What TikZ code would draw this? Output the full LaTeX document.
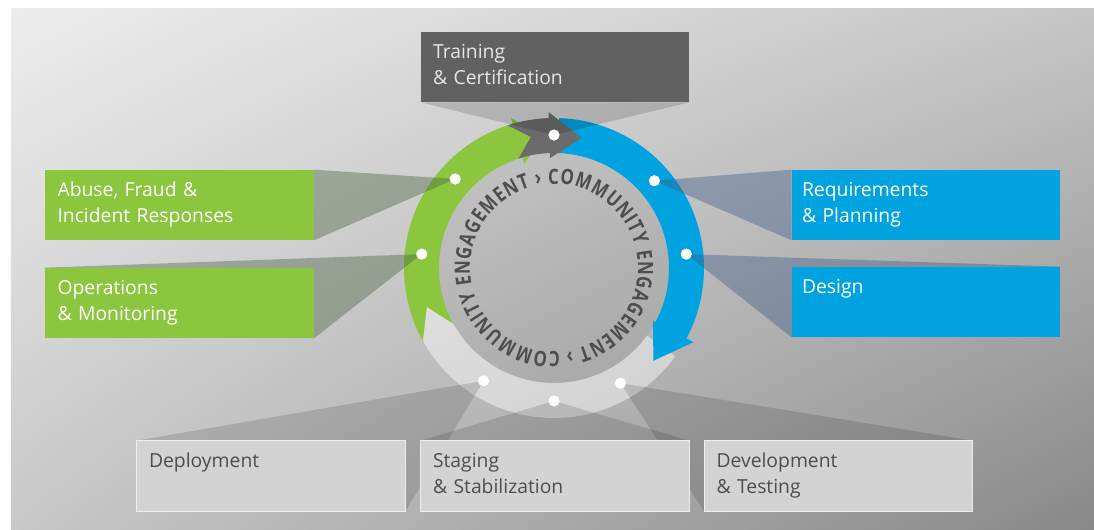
\documentclass[tikz,border=0pt]{standalone}
\usepackage{fontspec}
\setmainfont{Open Sans}
\newfontfamily\ringfont[FakeStretch=0.8]{Open Sans}
\usetikzlibrary{positioning,decorations.text,shadings}
\definecolor{sdlgreen}{HTML}{8CC63F}
\definecolor{sdlblue}{HTML}{00A3E0}
\definecolor{sdldark}{HTML}{616161}
\definecolor{sdllight}{HTML}{D3D3D3}
\definecolor{sdlarrow}{HTML}{6B6B6B}
\definecolor{sdltext}{HTML}{4D4D4D}
\definecolor{bgUL}{HTML}{EDEDED}
\definecolor{bgUR}{HTML}{C6C6C6}
\definecolor{bgLL}{HTML}{C8C8C8}
\definecolor{bgLR}{HTML}{888888}
\definecolor{wgreen}{HTML}{46613F}
\definecolor{wblue}{HTML}{3E5888}

\begin{document}
\begin{tikzpicture}[x=0.02cm, y=0.02cm,
    box/.style={rectangle, minimum width=5.36cm, minimum height=1.4cm, inner sep=0pt},
    lbl/.style={anchor=north west, inner sep=0pt, text width=5cm, align=left,
      font=\fontsize{11}{14.8}\selectfont, execute at begin node=\strut},
    dot/.style={circle, fill=white, fill opacity=.9, inner sep=0pt, minimum size=0.22cm},
    wedge/.style={fill=#1, fill opacity=.4}]
      \useasboundingbox (-554,-261) rectangle (540,268);
      % Background
      \shade[upper left=bgUL, upper right=bgUR, lower left=bgLL, lower right=bgLR]
        (-543,260) rectangle (540,-261);

      % Define nodes
      \node[box, fill=sdldark] (train) at (1,201) {};
      \node[box, fill=sdlgreen] (abuse) at (-374.5,63) {};
      \node[box, fill=sdlgreen] (ops) at (-374.5,-35) {};
      \node[box, fill=sdlblue] (req) at (372,63) {};
      \node[box, fill=sdlblue] (design) at (372,-34) {};
      \node[box, fill=sdllight, draw=white!60!sdllight] (deploy) at (-283,-208) {};
      \node[box, fill=sdllight, draw=white!60!sdllight] (stage) at (1,-208) {};
      \node[box, fill=sdllight, draw=white!60!sdllight] (devel) at (284.5,-208) {};

      % Inner disk and ring
      \fill[black, fill opacity=.06] (0,0) circle[radius=115];
      \fill[white, fill opacity=.45] (-36:150) arc[start angle=-36, end angle=-151, radius=150]
        -- (-163:133) -- (-151:115) arc[start angle=-151, end angle=-36, radius=115] -- cycle;
      \fill[sdlgreen] (209:150) arc[start angle=209, end angle=106, radius=150]
        -- (106:156) -- (95:133) -- (106:108)
        -- (106:115) arc[start angle=106, end angle=209, radius=115] -- (197:133) -- cycle;
      \fill[sdlblue] (88:150) arc[start angle=88, end angle=-28, radius=150]
        -- (-28:158) -- (-43:136) -- (-28:112)
        -- (-28:115) arc[start angle=-28, end angle=88, radius=115] -- cycle;
      \fill[sdlarrow] (108:150) arc[start angle=108, end angle=92, radius=150]
        -- (92:156) -- (78:133) -- (92:110)
        -- (92:115) arc[start angle=92, end angle=108, radius=115] -- (100:133) -- cycle;

      % Ring text
      \path[decorate, decoration={text along path, text align=fit to path,
        text={|\ringfont\fontsize{12}{14}\selectfont\bfseries\color{sdltext}|COMMUNITY ENGAGEMENT › COMMUNITY ENGAGEMENT ›}}]
        (94:84) arc[start angle=94, end angle=-262, radius=84];

      % Dots
      \node[dot] (dTrain) at (90:133) {};
      \node[dot] (dAbuse) at (138:133) {};
      \node[dot] (dOps) at (174:133) {};
      \node[dot] (dReq) at (41:133) {};
      \node[dot] (dDesign) at (6:133) {};
      \node[dot] (dDeploy) at (238:133) {};
      \node[dot] (dStage) at (270:133) {};
      \node[dot] (dDevel) at (300:133) {};

      % Draw wedges
      \fill[wedge=black, fill opacity=.15] (dTrain.center) -- (train.south west) -- (train.south east) -- cycle;
      \fill[wedge=wgreen] (dAbuse.center) -- (abuse.north east) -- (abuse.south east) -- cycle;
      \fill[wedge=wgreen] (dOps.center) -- (ops.north west) -- (ops.south east) -- cycle;
      \fill[wedge=wblue] (dReq.center) -- (req.north west) -- (req.south west) -- cycle;
      \fill[wedge=wblue] (dDesign.center) -- (design.north east) -- (design.south west) -- cycle;
      \fill[wedge=black, fill opacity=.13] (dDeploy.center) -- (deploy.north west) -- (deploy.south east) -- cycle;
      \fill[wedge=black, fill opacity=.13] (dStage.center) -- (stage.north west) -- (stage.north east) -- cycle;
      \fill[wedge=black, fill opacity=.13] (dDevel.center) -- (devel.north east) -- (devel.south west) -- cycle;

      % Redraw boxes over wedges
      \foreach \b/\c in {train/sdldark, abuse/sdlgreen, ops/sdlgreen, req/sdlblue, design/sdlblue}
        \fill[\c] (\b.south west) rectangle (\b.north east);
      \foreach \b in {deploy, stage, devel}
        \filldraw[fill=sdllight, draw=white!60!sdllight] (\b.south west) rectangle (\b.north east);
      \foreach \d in {dTrain, dAbuse, dOps, dReq, dDesign, dDeploy, dStage, dDevel}
        \fill[white, fill opacity=.9] (\d) circle[radius=5.5];

      % Labels
      \node[lbl, text=white!85!sdldark] (trainL) at ([shift={(12,-8)}]train.north west) {Training\\\& Certification};
      \node[lbl, text=white] (abuseL) at ([shift={(12,-8)}]abuse.north west) {Abuse, Fraud \&\\Incident Responses};
      \node[lbl, text=white] (opsL) at ([shift={(12,-8)}]ops.north west) {Operations\\\& Monitoring};
      \node[lbl, text=white] (reqL) at ([shift={(10,-8)}]req.north west) {Requirements\\\& Planning};
      \node[lbl, text=white] (designL) at ([shift={(10,-8)}]design.north west) {Design};
      \node[lbl, text=sdltext] (deployL) at ([shift={(12,-8)}]deploy.north west) {Deployment};
      \node[lbl, text=sdltext] (stageL) at ([shift={(12,-8)}]stage.north west) {Staging\\\& Stabilization};
      \node[lbl, text=sdltext] (develL) at ([shift={(12,-8)}]devel.north west) {Development\\\& Testing};
    \end{tikzpicture}
\end{document}
